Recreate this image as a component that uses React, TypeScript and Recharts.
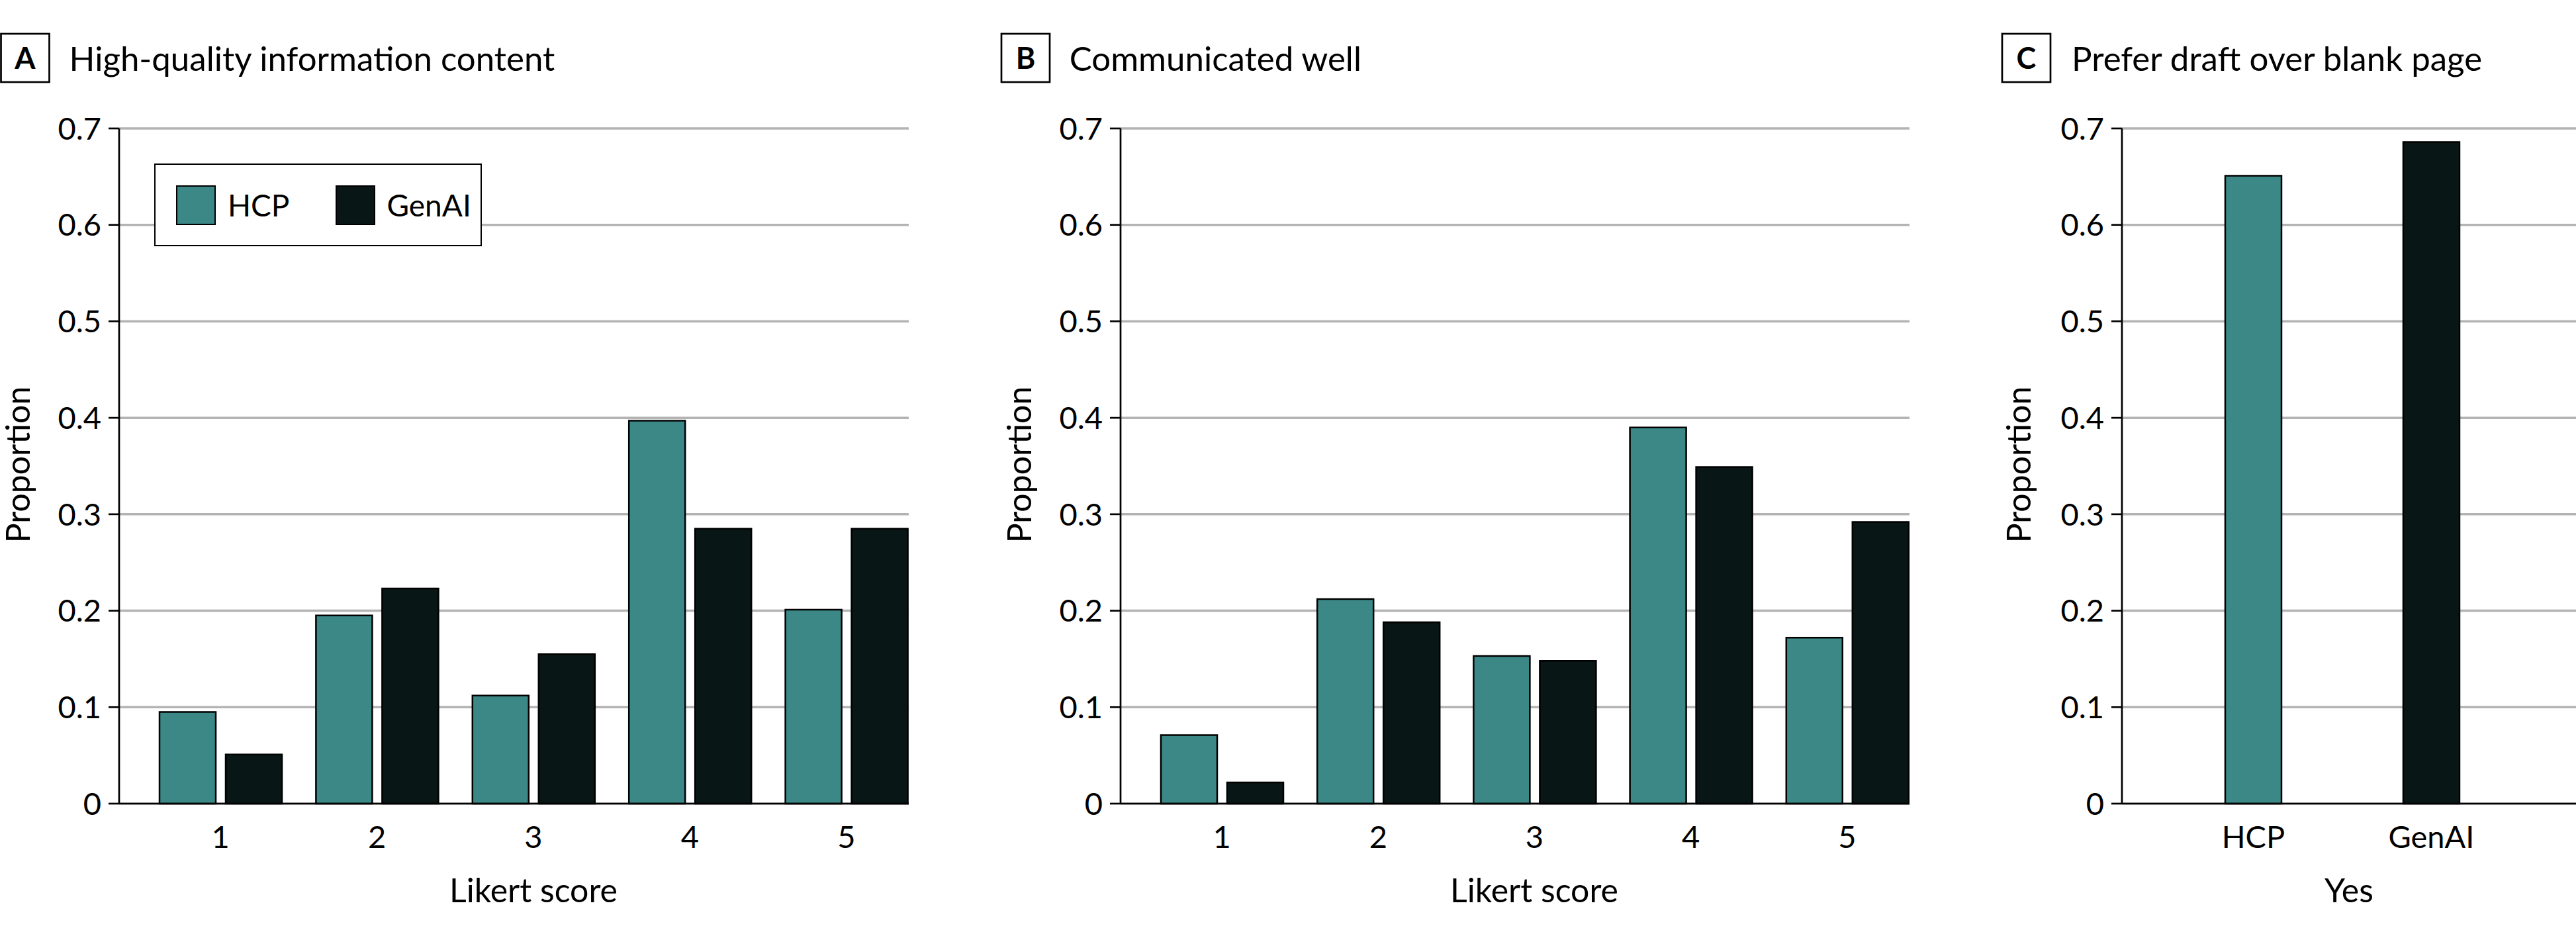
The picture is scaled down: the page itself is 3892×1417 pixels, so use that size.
import React from 'react';
import { BarChart, Bar, XAxis, YAxis, CartesianGrid, Cell, Legend } from 'recharts';

const likertScores = ['1', '2', '3', '4', '5'];
const infoHcp = [0.095, 0.195, 0.112, 0.397, 0.201];
const infoGenai = [0.051, 0.223, 0.155, 0.285, 0.285];
const commHcp = [0.071, 0.212, 0.153, 0.39, 0.172];
const commGenai = [0.022, 0.188, 0.148, 0.349, 0.292];
const preferGroups = ['HCP', 'GenAI'];
const preferYes = [0.651, 0.686];
const yTicks = [0, 0.1, 0.2, 0.3, 0.4, 0.5, 0.6, 0.7];

const HCP_COLOR = '#3b8887';
const GENAI_COLOR = '#081716';
const FONT = 'Lato, "Open Sans", sans-serif';

const infoData = likertScores.map((s, i) => ({ score: s, hcp: infoHcp[i], genai: infoGenai[i] }));
const commData = likertScores.map((s, i) => ({ score: s, hcp: commHcp[i], genai: commGenai[i] }));
const preferData = preferGroups.map((g, i) => ({ group: g, value: preferYes[i] }));

const fmt = (v: number) => (v === 0 ? '0' : v.toFixed(1));

const tickStyle = { fill: '#000', fontSize: 47, fontFamily: FONT };

// legend box drawn inside panel A
const renderLegend = () => (
  <div
    style={{
      width: 495,
      height: 125,
      border: '2.5px solid #000',
      background: '#fff',
      display: 'flex',
      alignItems: 'center',
      fontFamily: FONT,
      fontSize: 46,
      color: '#000',
      boxSizing: 'border-box',
    }}
  >
    <div style={{ width: 56, height: 56, background: HCP_COLOR, border: '2.5px solid #000', marginLeft: 31 }} />
    <span style={{ marginLeft: 18 }}>HCP</span>
    <div style={{ width: 56, height: 56, background: GENAI_COLOR, border: '2.5px solid #000', marginLeft: 70 }} />
    <span style={{ marginLeft: 17 }}>GenAI</span>
  </div>
);

const yAxisProps = {
  width: 160,
  type: 'number' as const,
  domain: [0, 0.7] as [number, number],
  ticks: yTicks,
  interval: 0 as const,
  tickFormatter: fmt,
  tick: tickStyle,
  tickSize: 16,
  tickMargin: 11,
  axisLine: { stroke: '#000', strokeWidth: 2.7 },
  tickLine: { stroke: '#000', strokeWidth: 2.7 },
};

interface LikertProps {
  data: { score: string; hcp: number; genai: number }[];
  marginLeft: number;
  marginRight: number;
  legend?: boolean;
}

const LikertChart: React.FC<LikertProps> = ({ data, marginLeft, marginRight, legend }) => (
  <BarChart
    width={1400}
    height={1417}
    data={data}
    margin={{ top: 194, right: marginRight, bottom: 113, left: marginLeft }}
    barGap={15}
    style={{ fontFamily: FONT }}
  >
    <CartesianGrid horizontal vertical={false} stroke="#b3b3b3" strokeWidth={3.5} />
    <XAxis
      dataKey="score"
      height={90}
      padding={{ left: 35, right: -24 }}
      tick={tickStyle}
      tickLine={false}
      tickSize={0}
      tickMargin={34}
      axisLine={{ stroke: '#000', strokeWidth: 2.7 }}
    />
    <YAxis {...yAxisProps} />
    {legend && (
      <Legend
        layout="horizontal"
        verticalAlign="middle"
        align="center"
        content={renderLegend}
        wrapperStyle={{ left: 233, top: 247, width: 495, height: 125 }}
      />
    )}
    <Bar dataKey="hcp" name="HCP" fill={HCP_COLOR} stroke="#000" strokeWidth={2.5} barSize={85} isAnimationActive={false} />
    <Bar dataKey="genai" name="GenAI" fill={GENAI_COLOR} stroke="#000" strokeWidth={2.5} barSize={85} isAnimationActive={false} />
  </BarChart>
);

const PreferChart: React.FC = () => (
  <BarChart
    width={892}
    height={1417}
    data={preferData}
    margin={{ top: 194, right: 0, bottom: 113, left: 46 }}
    style={{ fontFamily: FONT }}
  >
    <CartesianGrid horizontal vertical={false} stroke="#b3b3b3" strokeWidth={3.5} />
    <XAxis
      dataKey="group"
      height={90}
      padding={{ left: 64, right: 84 }}
      tick={tickStyle}
      tickLine={false}
      tickSize={0}
      tickMargin={34}
      axisLine={{ stroke: '#000', strokeWidth: 2.7 }}
    />
    <YAxis {...yAxisProps} />
    <Bar dataKey="value" stroke="#000" strokeWidth={2.5} barSize={85} isAnimationActive={false}>
      {preferData.map((d) => (
        <Cell key={d.group} fill={d.group === 'HCP' ? HCP_COLOR : GENAI_COLOR} />
      ))}
    </Bar>
  </BarChart>
);

const PanelTitle: React.FC<{ x: number; letter: string; textX: number; title: string }> = ({ x, letter, textX, title }) => (
  <g>
    <rect x={x} y={51} width={73} height={73} fill="#fff" stroke="#000" strokeWidth={2.7} />
    <text x={x + 36.5} y={104} textAnchor="middle" fontSize={45} fontWeight={700} fontFamily={FONT}>
      {letter}
    </text>
    <text x={textX} y={107} fontSize={51} fontFamily={FONT}>
      {title}
    </text>
  </g>
);

const YLabel: React.FC<{ x: number }> = ({ x }) => (
  <text x={x} y={702} transform={`rotate(-90 ${x} 702)`} textAnchor="middle" fontSize={50} fontFamily={FONT}>
    Proportion
  </text>
);

const XLabel: React.FC<{ x: number; text: string }> = ({ x, text }) => (
  <text x={x} y={1363} textAnchor="middle" fontSize={50} fontFamily={FONT}>
    {text}
  </text>
);

export default function App() {
  return (
    <div style={{ position: 'relative', width: 3892, height: 1417, background: '#fff', overflow: 'hidden' }}>
      <style>{'body{margin:0}'}</style>
      <div style={{ position: 'absolute', left: 0, top: 0 }}>
        <LikertChart data={infoData} marginLeft={20} marginRight={27} legend />
      </div>
      <div style={{ position: 'absolute', left: 1500, top: 0 }}>
        <LikertChart data={commData} marginLeft={33} marginRight={15} />
      </div>
      <div style={{ position: 'absolute', left: 3000, top: 0 }}>
        <PreferChart />
      </div>
      <svg width={3892} height={1417} style={{ position: 'absolute', left: 0, top: 0, pointerEvents: 'none' }}>
        <PanelTitle x={1.5} letter="A" textX={104.6} title="High-quality information content" />
        <PanelTitle x={1513} letter="B" textX={1615.7} title="Communicated well" />
        <PanelTitle x={3025} letter="C" textX={3130} title="Prefer draft over blank page" />
        <YLabel x={45} />
        <YLabel x={1558} />
        <YLabel x={3068} />
        <XLabel x={806} text="Likert score" />
        <XLabel x={2318} text="Likert score" />
        <XLabel x={3549} text="Yes" />
      </svg>
    </div>
  );
}
